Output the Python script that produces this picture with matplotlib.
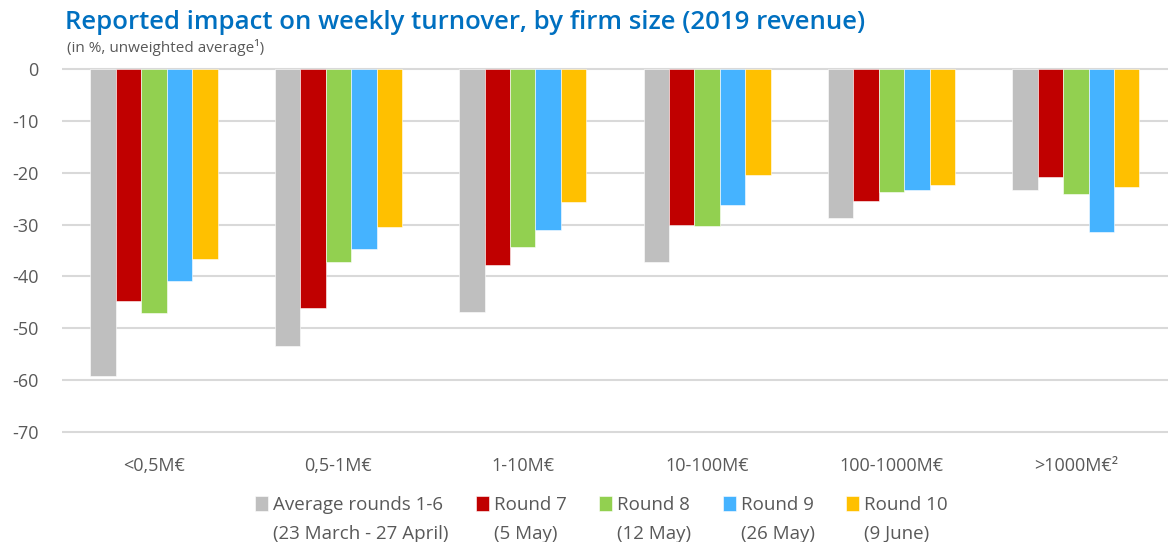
import matplotlib
matplotlib.use("Agg")
import matplotlib.pyplot as plt
import numpy as np

# ── Data ─────────────────────────────────────────────────────────────────────
categories = ["<0,5M€", "0,5-1M€", "1-10M€", "10-100M€", "100-1000M€", ">1000M€²"]
series_names = ["Average rounds 1-6", "Round 7", "Round 8", "Round 9", "Round 10"]
series_dates = ["(23 March - 27 April)", "(5 May)", "(12 May)", "(26 May)", "(9 June)"]

avg_1_6  = [-59.1, -53.5, -46.9, -37.3, -28.8, -23.3]
round_7  = [-44.8, -46.0, -37.7, -30.0, -25.5, -20.8]
round_8  = [-47.0, -37.3, -34.3, -30.3, -23.8, -24.2]
round_9  = [-40.8, -34.8, -31.1, -26.3, -23.4, -31.4]
round_10 = [-36.6, -30.5, -25.6, -20.4, -22.3, -22.7]

colors = ["#BFBFBF", "#C00000", "#92D050", "#45B3FF", "#FFC000"]
TEXT_GREY = "#595959"

plt.rcParams["font.family"] = ["Open Sans", "DejaVu Sans"]
plt.rcParams["axes.unicode_minus"] = False

# ── Figure ───────────────────────────────────────────────────────────────────
fig = plt.figure(figsize=(11.68, 5.42), dpi=100)
ax = fig.add_axes([0.053, 0.2, 0.947, 0.6756])

series = [avg_1_6, round_7, round_8, round_9, round_10]
x = np.arange(len(categories))
width = 0.138
handles = []
for i, (vals, col) in enumerate(zip(series, colors)):
    b = ax.bar(x + (i - 2) * width, vals, width=width, color=col,
               edgecolor="white", linewidth=0.4, zorder=3)
    handles.append(b)

ax.set_xlim(-0.5, len(categories) - 0.5)
ax.set_ylim(-70.3, 0.3)
ax.set_yticks(np.arange(-70, 1, 10))
ax.yaxis.grid(True, color="#D9D9D9", linewidth=1.5, zorder=0)
ax.set_axisbelow(True)
for s in ax.spines.values():
    s.set_visible(False)
ax.tick_params(axis="both", length=0, colors=TEXT_GREY, labelsize=13)
ax.tick_params(axis="x", pad=17)
ax.tick_params(axis="y", pad=17)
ax.set_xticks(x)
ax.set_xticklabels(categories)

fig.text(0.056, 0.958, "Reported impact on weekly turnover, by firm size (2019 revenue)",
         color="#0070C0", fontsize=18.5, fontweight="semibold", va="center")
fig.text(0.057, 0.912, "(in %, unweighted average¹)", color=TEXT_GREY, fontsize=11,
         va="center")

leg = fig.legend(handles, series_names, loc="center", bbox_to_anchor=(0.515, 0.068),
                 ncol=5, frameon=False, fontsize=13.5, handlelength=0.7,
                 handleheight=0.85, handletextpad=0.25, columnspacing=1.75,
                 labelcolor=TEXT_GREY)

# second line of each legend label, under the first one
fig.canvas.draw()
inv = fig.transFigure.inverted()
for txt, date in zip(leg.get_texts(), series_dates):
    bb = txt.get_window_extent()
    x0, y0 = inv.transform((bb.x0, bb.y0))
    fig.text(x0, y0 - 0.02, date, color=TEXT_GREY, fontsize=13.5, va="top", ha="left")

fig.savefig("out.png", dpi=100)
